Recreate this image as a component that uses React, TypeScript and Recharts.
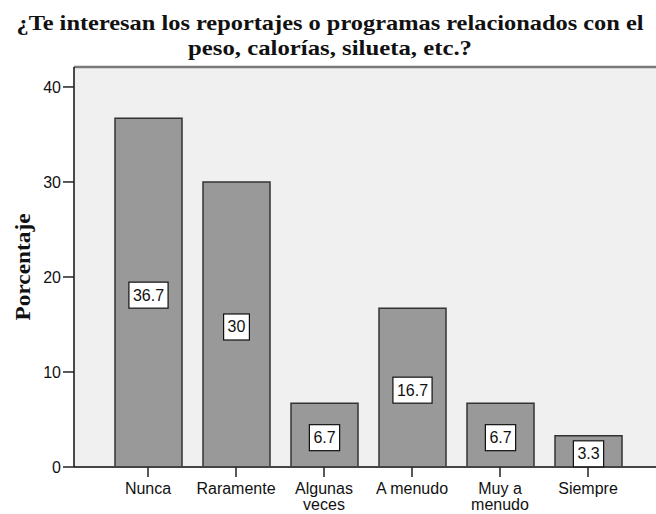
import React from "react";
import {
  BarChart,
  Bar,
  XAxis,
  YAxis,
  CartesianGrid,
  LabelList,
  ReferenceLine,
} from "recharts";

const categories = ["Nunca", "Raramente", "Algunas veces", "A menudo", "Muy a menudo", "Siempre"];
const percentages = [36.7, 30, 6.7, 16.7, 6.7, 3.3];
const tickLines = [["Nunca"], ["Raramente"], ["Algunas", "veces"], ["A menudo"], ["Muy a", "menudo"], ["Siempre"]];
const yTicks = [0, 10, 20, 30, 40];
const yMax = 42.1;
const titleLines = [
  "¿Te interesan los reportajes o programas relacionados con el",
  "peso, calorías, silueta, etc.?",
];
const titleWidths = [627, 284];

const data = categories.map((name, i) => ({ name, value: percentages[i] }));

const SANS = "'Liberation Sans', Arial, sans-serif";
const SERIF = "'Liberation Serif', 'Times New Roman', serif";

// white boxed value label in the middle of each bar
const BoxLabel = (props: any) => {
  const { x, y, width, height, value } = props;
  const text = String(value);
  const textW = text.split("").reduce((s, c) => s + (c === "." ? 4.45 : 8.9), 0);
  const w = textW + 8;
  const h = 26;
  const cx = x + width / 2;
  const cy = y + height / 2 + 2.5;
  return (
    <g>
      <rect x={cx - w / 2} y={cy - h / 2} width={w} height={h} fill="#fff" stroke="#111" strokeWidth={1.2} />
      <text x={cx} y={cy} textAnchor="middle" dominantBaseline="central" fontFamily={SANS} fontSize={16} fill="#111">
        {text}
      </text>
    </g>
  );
};

const CategoryTick = (props: any) => {
  const { x, y, index } = props;
  const lines = tickLines[index] || [];
  return (
    <g>
      {lines.map((l: string, i: number) => (
        <text key={i} x={x} y={y + 15 + i * 16} textAnchor="middle" fontFamily={SANS} fontSize={16} fill="#111">
          {l}
        </text>
      ))}
    </g>
  );
};

const YTitle = (props: any) => {
  const { viewBox } = props;
  const cx = viewBox.x + 22;
  const cy = viewBox.y + viewBox.height / 2;
  return (
    <text
      x={cx}
      y={cy}
      transform={`rotate(-90 ${cx} ${cy})`}
      textAnchor="middle"
      dominantBaseline="central"
      fontFamily={SERIF}
      fontWeight="bold"
      fontSize={22}
      textLength={107}
      lengthAdjust="spacingAndGlyphs"
      fill="#111"
    >
      Porcentaje
    </text>
  );
};

export default function App() {
  return (
    <div style={{ position: "absolute", left: 0, top: 0, width: 656, height: 514, overflow: "hidden", background: "#fff" }}>
      <svg width={656} height={64} style={{ position: "absolute", left: 0, top: 0 }}>
        {titleLines.map((t, i) => (
          <text
            key={i}
            x={330}
            y={30 + i * 25}
            textAnchor="middle"
            fontFamily={SERIF}
            fontWeight="bold"
            fontSize={22}
            textLength={titleWidths[i]}
            lengthAdjust="spacingAndGlyphs"
            fill="#111"
          >
            {t}
          </text>
        ))}
      </svg>
      <div style={{ position: "absolute", left: 0, top: 0 }}>
        <BarChart width={672} height={514} data={data} margin={{ top: 67, right: 10, bottom: 0, left: 0 }} barSize={67}>
          <CartesianGrid fill="#F0F0F0" horizontal={false} vertical={false} stroke="none" />
          <XAxis
            dataKey="name"
            interval={0}
            padding={{ left: 30, right: 30 }}
            tickSize={10}
            tickLine={{ stroke: "#222", strokeWidth: 1.5 }}
            axisLine={{ stroke: "#444", strokeWidth: 2 }}
            tick={<CategoryTick />}
            height={47}
          />
          <YAxis
            width={74}
            domain={[0, yMax]}
            ticks={yTicks}
            tickSize={11}
            tickLine={{ stroke: "#222", strokeWidth: 1.5 }}
            axisLine={{ stroke: "#111", strokeWidth: 1.5 }}
            tick={{ fill: "#111", fontSize: 16, fontFamily: SANS }}
            label={<YTitle />}
          />
          <ReferenceLine y={yMax} stroke="#7a7a7a" strokeWidth={2.5} />
          <Bar dataKey="value" fill="#999999" stroke="#333" strokeWidth={1.5} isAnimationActive={false}>
            <LabelList dataKey="value" content={<BoxLabel />} />
          </Bar>
        </BarChart>
      </div>
    </div>
  );
}
